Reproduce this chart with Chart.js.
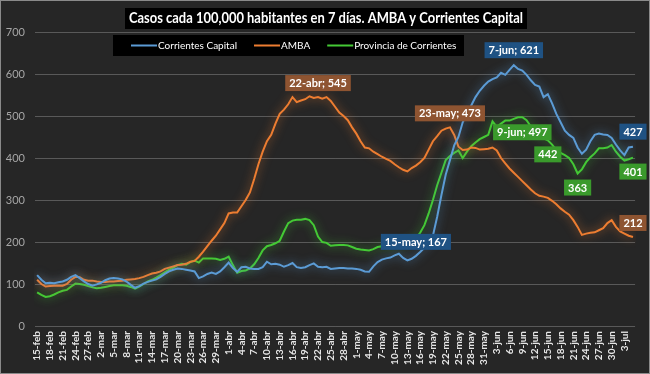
<!DOCTYPE html>
<html><head><meta charset="utf-8">
<script src="https://cdn.jsdelivr.net/npm/chart.js@4.4.1/dist/chart.umd.min.js"></script>
<style>html,body{margin:0;padding:0;background:#262626;}#wrap{width:650px;height:374px;position:relative;}canvas{display:block;}</style>
</head><body><div id="wrap"><canvas id="c"></canvas></div>
<script>
const categories = [
'15-feb','16-feb','17-feb','18-feb','19-feb','20-feb','21-feb','22-feb','23-feb','24-feb','25-feb','26-feb','27-feb','28-feb',
'1-mar','2-mar','3-mar','4-mar','5-mar','6-mar','7-mar','8-mar','9-mar','10-mar','11-mar','12-mar','13-mar','14-mar','15-mar','16-mar','17-mar','18-mar','19-mar','20-mar','21-mar','22-mar','23-mar','24-mar','25-mar','26-mar','27-mar','28-mar','29-mar','30-mar','31-mar',
'1-abr','2-abr','3-abr','4-abr','5-abr','6-abr','7-abr','8-abr','9-abr','10-abr','11-abr','12-abr','13-abr','14-abr','15-abr','16-abr','17-abr','18-abr','19-abr','20-abr','21-abr','22-abr','23-abr','24-abr','25-abr','26-abr','27-abr','28-abr','29-abr','30-abr',
'1-may','2-may','3-may','4-may','5-may','6-may','7-may','8-may','9-may','10-may','11-may','12-may','13-may','14-may','15-may','16-may','17-may','18-may','19-may','20-may','21-may','22-may','23-may','24-may','25-may','26-may','27-may','28-may','29-may','30-may','31-may',
'1-jun','2-jun','3-jun','4-jun','5-jun','6-jun','7-jun','8-jun','9-jun','10-jun','11-jun','12-jun','13-jun','14-jun','15-jun','16-jun','17-jun','18-jun','19-jun','20-jun','21-jun','22-jun','23-jun','24-jun','25-jun','26-jun','27-jun','28-jun','29-jun','30-jun',
'1-jul','2-jul','3-jul','4-jul','5-jul'];

const corrientesCapital = [
121,110,102,103,102,104,106,110,117,121,
114,106,100,96,99,103,109,113,114,113,
111,106,98,91,95,101,105,108,111,117,
124,130,134,137,136,134,132,130,114,118,
124,127,124,130,140,151,138,129,140,141,
137,136,136,140,153,147,148,146,141,145,
150,140,138,140,145,149,141,140,141,136,
137,138,138,137,137,136,134,130,129,142,
152,158,161,163,168,172,162,156,160,167,
176,186,195,215,260,312,360,395,430,450,
485,505,525,545,560,572,582,588,592,603,
598,610,621,612,608,598,585,574,570,545,
552,530,505,485,465,455,448,425,410,420,
440,455,458,456,455,448,432,418,407,425,427];

const amba = [
110,100,94,95,96,96,96,100,110,117,
116,110,108,108,106,105,105,106,106,107,
108,110,111,112,114,117,121,125,127,130,
136,139,142,145,146,148,153,155,165,177,
190,203,215,230,245,268,270,270,285,300,
318,350,385,415,440,455,482,505,515,528,
545,533,537,540,547,543,545,541,545,536,
522,508,500,490,473,458,440,425,423,415,
409,403,398,393,385,378,372,368,376,382,
390,400,420,440,452,465,470,473,455,427,
419,420,425,424,420,421,422,425,418,400,
387,375,365,355,345,335,325,316,310,308,
305,298,290,280,272,265,252,236,217,220,
222,223,228,233,245,252,236,225,220,215,212];

const provinciaCorrientes = [
80,74,69,71,75,80,84,86,94,101,
100,98,95,92,90,91,93,95,97,97,
97,96,93,89,94,100,106,110,115,121,
128,134,139,145,148,146,152,156,151,161,
161,161,160,157,160,165,145,127,131,132,
137,147,162,180,190,193,197,203,225,245,
251,253,253,255,252,240,213,200,198,191,
192,193,193,192,188,184,182,181,180,183,
188,190,186,188,191,193,196,198,203,209,
222,240,268,300,335,365,395,405,412,418,
400,415,428,437,445,450,455,487,474,482,
489,489,493,497,497,490,475,460,451,447,
442,432,419,412,407,400,385,363,373,390,
402,411,423,423,425,431,415,403,394,397,401];

const seriesNames = ['Corrientes Capital', 'AMBA', 'Provincia de Corrientes'];
const titleText = 'Casos cada 100,000 habitantes en 7 días. AMBA y Corrientes Capital';

// callouts: series index, point index, show date?
const callouts = [
  {series: 1, index: 66, date: true},
  {series: 1, index: 97, date: true},
  {series: 0, index: 112, date: true},
  {series: 2, index: 114, date: true},
  {series: 0, index: 89, date: true},
  {series: 2, index: 120, date: false},
  {series: 2, index: 127, date: false},
  {series: 0, index: 140, date: false},
  {series: 2, index: 140, date: false},
  {series: 1, index: 140, date: false}
];
const calloutOffsets = [-14, -14, -15, 15, -14, 14, 14, -15, 14, -14];

const lineColors = ['#5B9BD5', '#ED7D31', '#44C935'];
const glowColors = ['rgba(91,155,213,0.75)', 'rgba(237,125,49,0.75)', 'rgba(68,201,53,0.75)'];
const boxColors = ['#1F5283', '#8E5431', '#3A9A2C'];
const FONT = 'Lato, "Open Sans", sans-serif';

const bgPlugin = {
  id: 'bgPlugin',
  afterLayout(chart) {
    const t = chart.titleBlock;
    if (t) { t.left = 129; t.right = 523; t.width = 394; }
  },
  beforeDraw(chart) {
    const {ctx, width, height} = chart;
    ctx.save();
    ctx.fillStyle = '#262626';
    ctx.fillRect(0, 0, width, height);
    ctx.strokeStyle = '#8a8a8a';
    ctx.lineWidth = 1;
    ctx.strokeRect(0.5, 0.5, width - 1, height - 1);
    ctx.fillStyle = '#000000';
    ctx.fillRect(125, 8, 402, 21);
    ctx.fillRect(113, 35, 351, 21);
    ctx.restore();
  }
};

const legendPlugin = {
  id: 'legendPlugin',
  afterDraw(chart) {
    const ctx = chart.ctx;
    ctx.save();
    ctx.font = '10px ' + FONT;
    ctx.textBaseline = 'middle';
    ctx.textAlign = 'left';
    let x = 131;
    const y = 45.5;
    chart.data.datasets.forEach(ds => {
      ctx.strokeStyle = ds.borderColor;
      ctx.lineWidth = 2;
      ctx.beginPath();
      ctx.moveTo(x, y);
      ctx.lineTo(x + 26, y);
      ctx.stroke();
      x += 27;
      ctx.fillStyle = '#ffffff';
      ctx.fillText(ds.label, x, y);
      x += ctx.measureText(ds.label).width + 17;
    });
    ctx.restore();
  }
};

const glowPlugin = {
  id: 'glowPlugin',
  beforeDatasetDraw(chart, args) {
    const ctx = chart.ctx;
    ctx.save();
    ctx.shadowColor = glowColors[args.index];
    ctx.shadowBlur = 10;
    ctx.shadowOffsetX = 0;
    ctx.shadowOffsetY = 0;
  },
  afterDatasetDraw(chart) {
    chart.ctx.restore();
  }
};

const calloutPlugin = {
  id: 'calloutPlugin',
  afterDatasetsDraw(chart) {
    const ctx = chart.ctx;
    ctx.save();
    ctx.font = 'bold 11px ' + FONT;
    ctx.textAlign = 'center';
    ctx.textBaseline = 'middle';
    callouts.forEach((c, k) => {
      const ds = chart.data.datasets[c.series];
      const pt = chart.getDatasetMeta(c.series).data[c.index];
      if (!pt) return;
      const val = ds.data[c.index];
      const txt = c.date ? categories[c.index] + '; ' + val : String(val);
      const w = ctx.measureText(txt).width + 8;
      const h = 16;
      const cx = pt.x;
      const cy = pt.y + calloutOffsets[k];
      ctx.fillStyle = boxColors[c.series];
      ctx.fillRect(cx - w / 2, cy - h / 2, w, h);
      ctx.fillStyle = '#ffffff';
      ctx.fillText(txt, cx, cy + 0.5);
    });
    ctx.restore();
  }
};

const seriesData = [corrientesCapital, amba, provinciaCorrientes];

new Chart(document.getElementById('c'), {
  type: 'line',
  data: {
    labels: categories,
    datasets: seriesData.map((d, i) => ({
      label: seriesNames[i],
      data: d,
      borderColor: lineColors[i],
      backgroundColor: lineColors[i],
      borderWidth: 2,
      pointRadius: 0,
      pointHoverRadius: 0,
      tension: 0,
      fill: false
    }))
  },
  options: {
    responsive: true,
    maintainAspectRatio: false,
    animation: false,
    layout: {padding: {left: 0, right: 14, top: 0, bottom: 0}},
    plugins: {
      title: {
        display: true,
        text: titleText,
        color: '#ffffff',
        font: {family: FONT, size: 15, weight: 'bold', lineHeight: 1.2},
        padding: {top: 9, bottom: 5}
      },
      legend: {display: false},
      tooltip: {enabled: false}
    },
    scales: {
      x: {
        type: 'category',
        offset: true,
        grid: {display: false, drawTicks: false},
        border: {display: false},
        afterFit(scale) { scale.height = 48; },
        ticks: {
          autoSkip: false,
          maxRotation: 90,
          minRotation: 90,
          padding: 5,
          color: '#e6e6e6',
          font: {family: FONT, size: 10, weight: 'bold'},
          callback: function(v, idx) { return idx % 3 === 0 ? categories[idx] : ''; }
        }
      },
      y: {
        min: 0,
        max: 700,
        afterFit(scale) { scale.width = 35; },
        grid: {color: '#595959', lineWidth: 1, drawTicks: false},
        border: {display: false},
        ticks: {
          stepSize: 100,
          padding: 10,
          color: '#a6a6a6',
          font: {family: FONT, size: 11}
        }
      }
    }
  },
  plugins: [bgPlugin, legendPlugin, glowPlugin, calloutPlugin]
});
</script>
</body></html>
